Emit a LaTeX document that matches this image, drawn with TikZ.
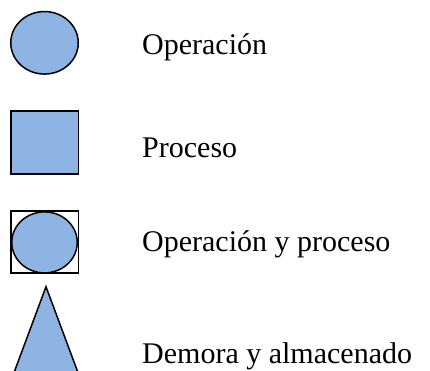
\documentclass[tikz,border=0pt]{standalone}
\usepackage{fontspec}
\setmainfont{Liberation Serif}
\usetikzlibrary{shapes.geometric}
\definecolor{symfill}{RGB}{142,180,227}
\begin{document}
\begin{tikzpicture}[x=1pt,y=-1pt,
  sym/.style={draw=black,line width=1.5pt,fill=symfill},
  lbl/.style={anchor=base west,inner sep=0pt,font=\fontsize{30}{36}\selectfont}]
\useasboundingbox (0,0) rectangle (430,370);
\clip (0,0) rectangle (430,370);
% Operacion
\node[sym,ellipse,minimum width=67.5pt,minimum height=62.5pt,inner sep=0pt] (op) at (44.5,42.8) {};
\node[lbl] (opl) at (142,54) {Operación};
% Proceso
\node[sym,rectangle,minimum width=67.5pt,minimum height=63pt,inner sep=0pt] (pr) at (44.5,142.5) {};
\node[lbl] (prl) at (142,157.5) {Proceso};
% Operacion y proceso
\node[draw=black,line width=1.5pt,fill=white,rectangle,minimum width=67.5pt,minimum height=62pt,inner sep=0pt] (opsq) at (44.5,242) {};
\node[sym,ellipse,minimum width=65.5pt,minimum height=61pt,inner sep=0pt] (opc) at (44.5,242.4) {};
\node[lbl] (opprl) at (142,251.5) {Operación y proceso};
% Demora
\coordinate (apex) at (46,286.7);
\coordinate (bl) at (12,378);
\coordinate (br) at (80,378);
\draw[sym,line join=miter] (apex) -- (br) -- (bl) -- cycle;
\node[lbl] (del) at (142,363) {Demora y almacenado};
\end{tikzpicture}
\end{document}
